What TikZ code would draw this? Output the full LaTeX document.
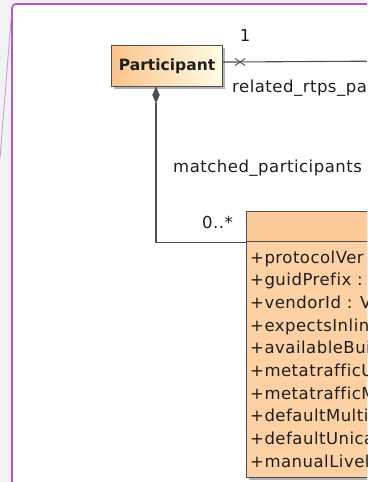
\documentclass[tikz,border=0pt]{standalone}
\usepackage{fontspec}
\setmainfont{DejaVu Sans}
\newfontfamily\umlfont[LetterSpace=3,Ligatures=NoCommon]{DejaVu Sans}
\usetikzlibrary{shapes.geometric,positioning,shadows,calc}
\definecolor{panelbg}{HTML}{F2F2F2}
\definecolor{panelline}{HTML}{AE58C0}
\definecolor{classorange}{HTML}{FBC48C}
\definecolor{classpale}{HTML}{FFFCE6}
\definecolor{classbody}{HTML}{FDD1A4}
\definecolor{classhead}{HTML}{FCCA98}
\definecolor{umlline}{HTML}{4E4E4E}
\definecolor{umltext}{HTML}{1E1E1E}

\begin{document}
\begin{tikzpicture}[
    x=1pt, y=-1pt,
    classbox/.style={rectangle, draw=umlline, line width=1.1pt, inner sep=0pt, anchor=north west,
      drop shadow={shadow xshift=2.5pt, shadow yshift=-2.5pt, fill=black, opacity=0.3}},
    assoc/.style={draw=umlline, line width=1.1pt},
    role/.style={font=\umlfont\fontsize{16.5}{20}\selectfont, text=umltext, inner sep=0pt},
    attr/.style={font=\umlfont\fontsize{16.5}{20}\selectfont, text=umltext, inner sep=0pt, anchor=base west},
]

\useasboundingbox (0,0) rectangle (367,482);
\clip (0,0) rectangle (367,482);

% ====== Panel ======
\fill[panelbg] (0,0) rectangle (367,482);
\draw[panelline, line width=1.6pt, fill=white, rounded corners=4pt] (12,4) rectangle (400,520);
\draw[panelline!80, line width=0.9pt, opacity=0.7] (11.5,14) -- (0,158);

% ====== Participant ======
\node[classbox, left color=classorange, right color=classpale, minimum width=111pt, minimum height=41pt] (part) at (111,45) {};
\node[font=\fontsize{15.5}{18}\selectfont\bfseries, text=umltext] (partname) at (part.center) {Participant};

% ====== RTPS participant (cut off) ======
\node[classbox, fill=classhead, minimum width=160pt, minimum height=30pt] (rtpshead) at (246,211) {};
\node[classbox, fill=classbody, minimum width=160pt, minimum height=236pt] (rtpsbody) at (246,241) {};

\foreach \i/\txt in {1/+protocolVer, 2/+guidPrefix :, 3/+vendorId : V, 4/+expectsInlin,
    5/+availableBui, 6/+metatrafficU, 7/+metatrafficM, 8/+defaultMulti, 9/+defaultUnica, 10/+manualLivel}
  \node[attr] (attr\i) at (250,{263+22.7*(\i-1)}) {\txt};

% ====== related_rtps_participant ======
\coordinate (assocend) at (400,61);
\draw[assoc] ([yshift=4pt]part.east) -- (assocend);
\coordinate (xmark) at ($([yshift=4pt]part.east)+(17,0)$);
\draw[assoc, line width=0.9pt] ($(xmark)+(-5,-3.5)$) -- ($(xmark)+(5,3.5)$);
\draw[assoc, line width=0.9pt] ($(xmark)+(-5,3.5)$) -- ($(xmark)+(5,-3.5)$);
\node[role] (onemult) at (245,35) {1};
\node[role, anchor=base west] (relname) at (232,92) {related\_rtps\_pa};

% ====== matched_participants ======
\node[diamond, fill=umlline, draw=umlline, inner sep=0pt, minimum width=7pt, minimum height=16pt] (comp) at (156,95) {};
\draw[assoc] (comp.south) |- (rtpshead.south west);
\node[role, anchor=base west] (matchname) at (173,172.5) {matched\_participants};
\node[role, anchor=base east] (manymult) at (233,228) {0..*};

\end{tikzpicture}
\end{document}
